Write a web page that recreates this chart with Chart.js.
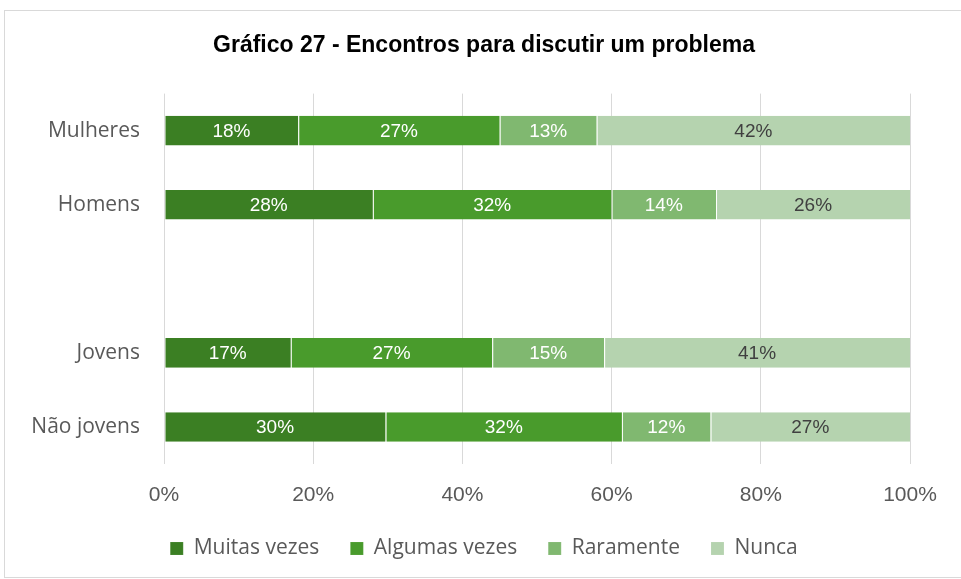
<!DOCTYPE html>
<html>
<head>
<meta charset="utf-8">
<script src="https://cdn.jsdelivr.net/npm/chart.js@4.4.1/dist/chart.umd.min.js"></script>
<style>
  html, body { margin: 0; padding: 0; background: #fff; }
  #frame {
    position: absolute; left: 4px; top: 10px;
    width: 960px; height: 568px;
    box-sizing: border-box;
    border: 1px solid #d9d9d9;
  }
  #chart { display: block; }
</style>
</head>
<body>
<div id="frame"><canvas id="chart" width="958" height="566"></canvas></div>
<script>
// DATA
const titleText = 'Gráfico 27 - Encontros para discutir um problema';
const categories = ['Mulheres', 'Homens', '', 'Jovens', 'Não jovens'];
const seriesNames = ['Muitas vezes', 'Algumas vezes', 'Raramente', 'Nunca'];
const muitasVezes = [18, 28, null, 17, 30];
const algumasVezes = [27, 32, null, 27, 32];
const raramente = [13, 14, null, 15, 12];
const nunca = [42, 26, null, 41, 27];
const tickLabels = ['0%', '20%', '40%', '60%', '80%', '100%'];

const seriesValues = [muitasVezes, algumasVezes, raramente, nunca];
const colors = ['#3b7f23', '#499b2c', '#80b870', '#b5d3af'];
const labelColors = ['#ffffff', '#ffffff', '#ffffff', '#404040'];

// 100% stacked: each row scaled by its total, like the original
const rowTotals = categories.map((_, i) =>
    seriesValues.reduce((sum, s) => sum + (s[i] || 0), 0));
const share = (values) => values.map((v, i) =>
    v == null || !rowTotals[i] ? null : v / rowTotals[i] * 100);


// inline data labels (no datalabels plugin offline)
const barLabels = {
    id: 'barLabels',
    afterDatasetsDraw(chart) {
        const ctx = chart.ctx;
        ctx.save();
        ctx.font = '19px "Liberation Sans", Arial, sans-serif';
        ctx.textAlign = 'center';
        ctx.textBaseline = 'middle';
        chart.data.datasets.forEach((ds, di) => {
            const meta = chart.getDatasetMeta(di);
            meta.data.forEach((bar, i) => {
                const raw = seriesValues[di][i];
                if (raw == null) return;
                const p = bar.getCenterPoint();
                ctx.fillStyle = labelColors[di];
                ctx.fillText(raw + '%', p.x, p.y + 1);
            });
        });
        ctx.restore();
    }
};


const ctx = document.getElementById('chart').getContext('2d');

new Chart(ctx, {
    type: 'bar',
    data: {
        labels: categories,
        datasets: seriesNames.map((name, i) => ({
            label: name,
            data: share(seriesValues[i]),
            backgroundColor: colors[i],
            borderColor: 'rgba(255,255,255,0.45)',
            borderWidth: { left: 1, right: 0, top: 0, bottom: 0 },
            borderSkipped: false,
            barPercentage: 0.4,
            categoryPercentage: 1
        }))
    },
    options: {
        indexAxis: 'y',
        responsive: false,
        animation: false,
        layout: { padding: { left: 0, right: 0, top: 0, bottom: 10 } },
        scales: {
            x: {
                stacked: true,
                min: 0,
                max: 100,
                afterFit: (scale) => { scale.height = 43; },
                ticks: {
                    stepSize: 20,
                    padding: 19,
                    color: '#595959',
                    font: { family: '"Liberation Sans", Arial, sans-serif', size: 21 },
                    callback: (value) => tickLabels[value / 20]
                },
                grid: { color: '#d9d9d9', lineWidth: 1, drawTicks: false },
                border: { display: false }
            },
            y: {
                stacked: true,
                afterFit: (scale) => { scale.width = 159; },
                ticks: {
                    padding: 24,
                    color: '#595959',
                    font: { family: '"Open Sans", sans-serif', size: 21 }
                },
                grid: { display: false, drawTicks: false },
                border: { display: false }
            },
            // empty right margin so title and legend centre on the whole frame
            right: {
                type: 'linear',
                position: 'right',
                afterFit: (scale) => { scale.width = 53; },
                ticks: { display: false },
                grid: { display: false, drawTicks: false },
                border: { display: false }
            }
        },
        plugins: {
            title: {
                display: true,
                text: titleText,
                color: '#000000',
                font: { family: '"Liberation Sans", Arial, sans-serif', size: 23, weight: 'bold' },
                padding: { top: 21, bottom: 34 }
            },
            legend: {
                position: 'bottom',
                maxHeight: 60,
                labels: {
                    boxWidth: 13,
                    boxHeight: 13,
                    padding: 31,
                    color: '#595959',
                    font: { family: '"Open Sans", sans-serif', size: 21 }
                }
            },
            tooltip: { enabled: false }
        }
    },
    plugins: [barLabels]
});
</script>
</body>
</html>
